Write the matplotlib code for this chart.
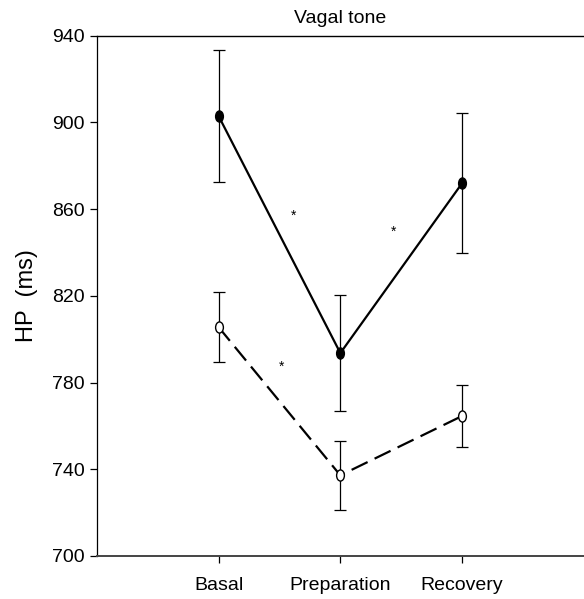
import numpy as np
import matplotlib.pyplot as plt
from matplotlib.path import Path

plt.rcParams['font.family'] = ['Liberation Sans', 'DejaVu Sans']

phases = ['Basal', 'Preparation', 'Recovery']
filled_mean = [903, 793.6, 872]
filled_err = [30.5, 26.7, 32.2]
open_mean = [805.6, 737.2, 764.6]
open_err = [16.1, 16.0, 14.3]

# significance stars: (x, y)
stars_x = [1.615, 2.44, 1.52]
stars_y = [857, 849.5, 787.5]

# taller-than-wide ellipse marker
circ = Path.unit_circle()
ellipse = Path(circ.vertices * np.array([0.7, 1.0]), circ.codes)

fig = plt.figure(figsize=(5.84, 5.99), dpi=100)
ax = fig.add_axes([0.1656, 0.0718, 0.8344, 0.8686])

x = np.arange(1, len(phases) + 1)

ax.errorbar(x, filled_mean, yerr=filled_err, fmt='none', ecolor='black',
            elinewidth=0.9, capsize=4.3, capthick=0.9, zorder=2)
ax.errorbar(x, open_mean, yerr=open_err, fmt='none', ecolor='black',
            elinewidth=0.9, capsize=4.3, capthick=0.9, zorder=2)

ax.plot(x, filled_mean, color='black', lw=1.6, ls='-', marker=ellipse,
        ms=8, mfc='black', mec='black', zorder=3)
ax.plot(x, open_mean, color='black', lw=1.6, ls=(0, (8, 3.5)), marker=ellipse,
        ms=8, mfc='white', mec='black', mew=1.0, zorder=3)

for sx, sy in zip(stars_x, stars_y):
    ax.text(sx, sy, '*', ha='center', va='center', fontsize=10)

ax.set_xlim(0, 4)
ax.set_ylim(700, 940)
ax.set_yticks(np.arange(700, 941, 40))
ax.set_xticks(x)
ax.set_xticklabels(phases)
ax.tick_params(axis='both', direction='out', length=5, width=0.9,
               labelsize=14, colors='black')
ax.tick_params(axis='x', pad=10)
ax.spines['right'].set_visible(False)
ax.spines['left'].set_linewidth(0.9)
ax.spines['top'].set_linewidth(1.0)
ax.spines['bottom'].set_linewidth(1.4)
ax.spines['bottom'].set_color('#444444')

ax.set_ylabel('HP  (ms)', fontsize=17, labelpad=10)
ax.set_title('Vagal tone', fontsize=14, pad=9)

fig.savefig('out.png', dpi=100)
